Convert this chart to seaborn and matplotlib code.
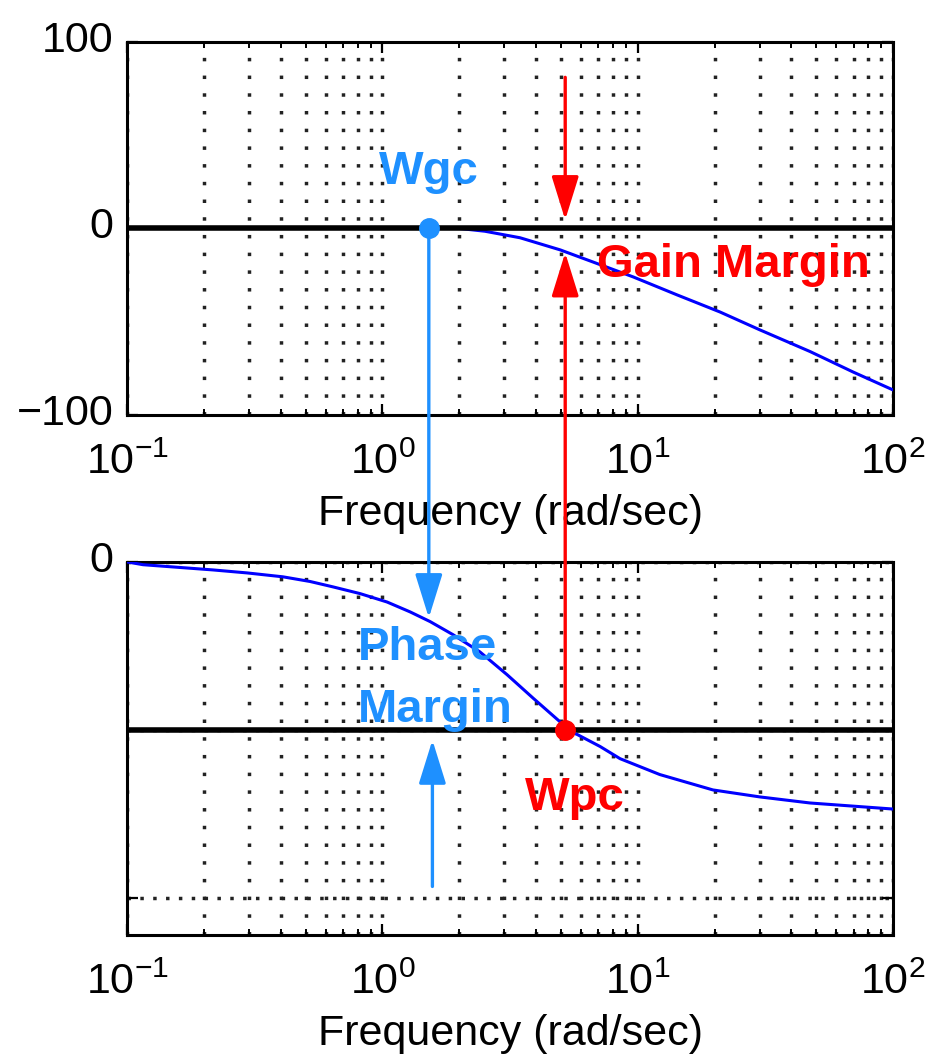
import numpy as np
import pandas as pd
import matplotlib
matplotlib.use('Agg')
import matplotlib.pyplot as plt
import seaborn as sns
from matplotlib import font_manager
from matplotlib.patches import ConnectionPatch
from matplotlib.transforms import ScaledTranslation

# magnitude curve (dB)
mag_freq = [0.1, 0.3, 1.0, 2.0, 2.52, 3.46, 4.97, 6.68, 9.6, 14.3, 21.0, 30.1, 47.3, 69.8, 100]
mag_db = [0, 0, 0, 0, -1.5, -5, -11.5, -18, -26, -35.7, -44.8, -54.4, -66, -77, -86.6]

# phase curve (deg)
phase_freq = [0.1, 0.1155, 0.217, 0.295, 0.408, 0.521, 0.641, 0.818, 1.043, 1.284, 1.538,
              1.89, 2.41, 3.08, 3.89, 4.97, 5.2, 5.79, 7.13, 8.53, 12.2, 19.7, 30.1, 47.3, 100]
phase_deg = [0, -3, -8.6, -11.8, -16, -21, -26.8, -34, -43, -53.6, -64,
             -78, -96.5, -121, -146, -171.6, -180, -185, -198, -211, -228, -244.5, -252, -258.5, -265]

# margins
wgc = 1.52
wpc = 5.2
gm_top = [81, 4.6]        # red down arrow, start/tip (dB)
gm_tip = -13              # red up arrow tip on magnitude axes (dB)
pm_tip = -60              # blue down arrow tip on phase axes (deg)
pm_up_freq = 1.57
pm_up = [-348, -191]      # blue up arrow start/tip (deg)

xtick_vals = [0.1, 1, 10, 100]
xtick_text = ['$\\mathregular{10^{-1}}$', '$\\mathregular{10^{0}}$',
              '$\\mathregular{10^{1}}$', '$\\mathregular{10^{2}}$']
mag_ticks = [-100, 0, 100]
mag_tick_text = ['\u2212100', '0', '100']
phase_ticks = [-360, -180, 0]
phase_tick_text = ['', '', '0']

sns.set_theme(style='white')
names = {f.name for f in font_manager.fontManager.ttflist}
if 'Liberation Sans Narrow' in names:
    tfont, tsize = 'Liberation Sans Narrow', 37
else:
    tfont, tsize = 'Liberation Sans', 31
plt.rcParams['font.family'] = [tfont, 'DejaVu Sans']
plt.rcParams['mathtext.fontset'] = 'custom'
plt.rcParams['mathtext.rm'] = tfont
plt.rcParams['axes.unicode_minus'] = True

BLUE = '#1E90FF'
RED = '#FF0000'
vdots = (0, (1, 4.1))
hdots = (0, (1, 2.7))

fig = plt.figure(figsize=(9.3, 10.61), dpi=100)
ax_mag = fig.add_axes([0.1366, 0.6089, 0.8237, 0.3516])
ax_ph = fig.add_axes([0.1366, 0.1188, 0.8237, 0.3516])

df_mag = pd.DataFrame({'freq': mag_freq, 'db': mag_db})
df_ph = pd.DataFrame({'freq': phase_freq, 'deg': phase_deg})

for ax in (ax_mag, ax_ph):
    ax.set_xscale('log')
    ax.set_xlim(0.1, 100)
    ax.set_facecolor('white')
    for s in ax.spines.values():
        s.set_color('black')
        s.set_linewidth(2.2)
    ax.set_xticks(xtick_vals)
    ax.set_xticklabels(xtick_text)
    ax.tick_params(axis='both', which='major', direction='in', length=8, width=1.6,
                   top=True, right=True, bottom=True, left=True, color='black',
                   labelsize=tsize, labelcolor='black')
    ax.tick_params(axis='x', which='major', pad=20)
    ax.tick_params(axis='y', which='major', pad=10)
    ax.tick_params(axis='x', which='minor', direction='in', length=4, width=1.4,
                   top=True, bottom=True, color='black')
    ax.xaxis.set_minor_formatter(matplotlib.ticker.NullFormatter())
    ax.grid(True, which='both', axis='x', color='#222222', linestyle=vdots, linewidth=2.5)
    ax.set_xlabel('Frequency (rad/sec)', fontsize=tsize, color='black', labelpad=8)

# magnitude panel
sns.lineplot(data=df_mag, x='freq', y='db', ax=ax_mag, color='blue', lw=2.2, zorder=3,
             estimator=None, sort=False)
ax_mag.axhline(0, color='black', lw=4, zorder=4)
ax_mag.set_ylim(-100, 100)
ax_mag.set_yticks(mag_ticks)
ax_mag.set_yticklabels(mag_tick_text)
ax_mag.set_ylabel('')

# phase panel
sns.lineplot(data=df_ph, x='freq', y='deg', ax=ax_ph, color='blue', lw=2.2, zorder=5,
             estimator=None, sort=False)
ax_ph.axhline(-180, color='black', lw=4, zorder=4)
ax_ph.set_ylim(-400, 0)
ax_ph.set_yticks(phase_ticks)
ax_ph.set_yticklabels(phase_tick_text)
ax_ph.grid(True, which='major', axis='y', color='#222222', linestyle=hdots, linewidth=2.5)
ax_ph.set_ylabel('')

# y tick labels sit a little above their ticks in the original
for ax in (ax_mag, ax_ph):
    for lab in ax.get_yticklabels():
        lab.set_transform(lab.get_transform() + ScaledTranslation(0, 4 / 72, fig.dpi_scale_trans))

head = '-|>,head_length=1.35,head_width=0.42'
bold = dict(fontsize=34, fontweight='bold', family='Liberation Sans', va='baseline', zorder=7)

# gain crossover
ax_mag.plot([wgc], [0], 'o', color=BLUE, ms=14, zorder=6, clip_on=False)
ax_mag.text(wgc, 24, 'Wgc', color=BLUE, ha='center', **bold)
con = ConnectionPatch(xyA=(wgc, 0), coordsA=ax_mag.transData,
                      xyB=(wgc, pm_tip), coordsB=ax_ph.transData,
                      arrowstyle=head, mutation_scale=20, color=BLUE, lw=2.4,
                      shrinkA=0, shrinkB=0, zorder=8)
fig.add_artist(con)
ax_ph.annotate('', xy=(pm_up_freq, pm_up[1]), xytext=(pm_up_freq, pm_up[0]),
               arrowprops=dict(arrowstyle=head, mutation_scale=20, color=BLUE, lw=2.4,
                               shrinkA=0, shrinkB=0), zorder=8)
ax_ph.text(0.803, -105, 'Phase', color=BLUE, ha='left', **bold)
ax_ph.text(0.803, -171.6, 'Margin', color=BLUE, ha='left', **bold)

# phase crossover
ax_ph.plot([wpc], [-180], 'o', color=RED, ms=14, zorder=9, clip_on=False)
ax_ph.text(5.69, -266, 'Wpc', color=RED, ha='center', **bold)
ax_mag.annotate('', xy=(wpc, gm_top[1]), xytext=(wpc, gm_top[0]),
                arrowprops=dict(arrowstyle=head, mutation_scale=20, color=RED, lw=2.4,
                                shrinkA=0, shrinkB=0), zorder=8)
con2 = ConnectionPatch(xyA=(wpc, -180), coordsA=ax_ph.transData,
                       xyB=(wpc, gm_tip), coordsB=ax_mag.transData,
                       arrowstyle=head, mutation_scale=20, color=RED, lw=2.4,
                       shrinkA=0, shrinkB=0, zorder=8)
fig.add_artist(con2)
ax_mag.text(6.93, -26, 'Gain Margin', color=RED, ha='left', **bold)

fig.savefig('out.png', dpi=100, facecolor='white')
